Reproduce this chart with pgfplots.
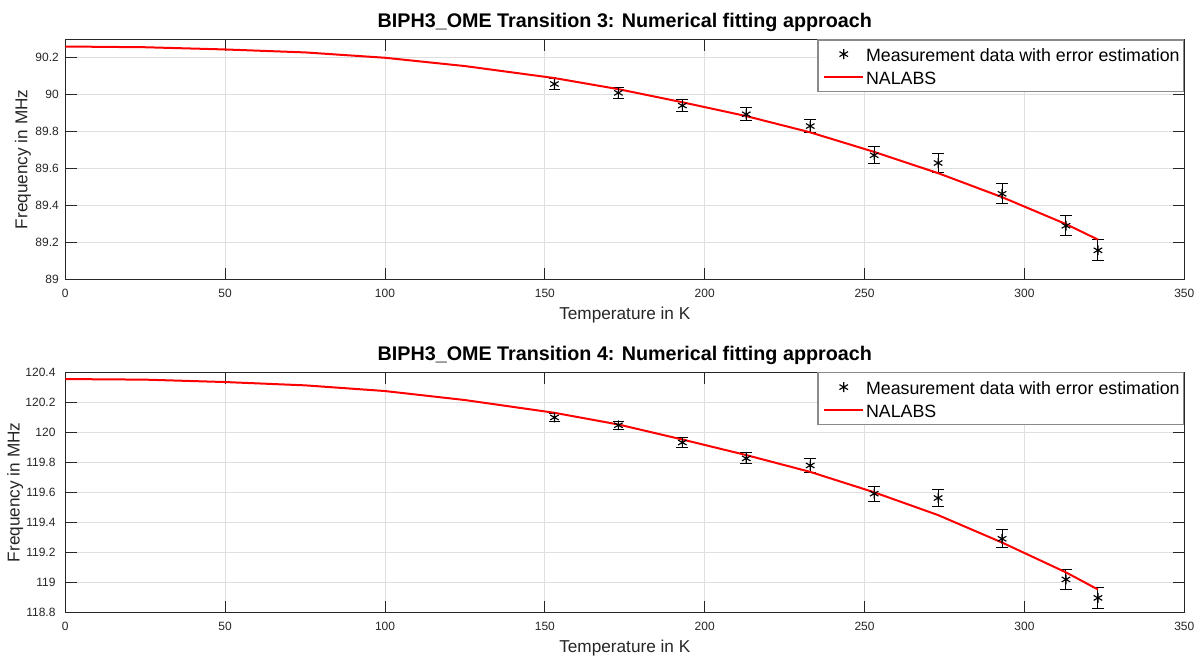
\documentclass[border=0pt]{standalone}
\usepackage{fontspec}
\setmainfont{Liberation Sans}
\usepackage{pgfplots}
\pgfplotsset{compat=1.18}
\definecolor{axc}{HTML}{262626}
\definecolor{gridc}{HTML}{DFDFDF}
\definecolor{legc}{HTML}{8A8A8A}

\pgfplotsset{
  mlab/.style={
    scale only axis, width=839.25bp, height=180bp,
    xmin=0, xmax=350, xtick={0,50,...,350},
    grid=major, grid style={gridc, line width=0.75bp},
    axis line style={axc, line width=0.9bp},
    tick align=inside, major tick length=8.4bp,
    every tick/.style={axc, line width=0.75bp},
    /pgf/number format/assume math mode=true,
    scaled y ticks=false,
    tick label style={font=\fontsize{9bp}{10bp}\selectfont, text=axc, inner sep=0pt},
    xticklabel style={anchor=base, yshift=-13.5bp},
    yticklabel style={anchor=east, xshift=-4.7bp},
    label style={font=\fontsize{12.9bp}{14bp}\selectfont, text=axc},
    xlabel style={at={(0.5,0)}, anchor=base, yshift=-30.5bp},
    ylabel style={at={(-0.0378,0.5)}, anchor=center},
    title style={font=\bfseries\fontsize{14.8bp}{16bp}\selectfont, at={(0.5,1)}, anchor=base, yshift=2.7bp},
    legend style={at={(1,1)}, anchor=north east, draw=legc, line width=0.9bp, fill=white,
      font=\fontsize{13.35bp}{15bp}\selectfont,
      inner xsep=1.5bp, inner ysep=3bp, row sep=2.2bp, column sep=0bp,
      nodes={inner sep=1.5bp, text height=11.5bp, text depth=0.8bp}},
    legend cell align=left,
    xlabel={Temperature in K}, ylabel={Frequency in MHz},
  },
  meas/.style={only marks, mark=asterisk, mark size=3.7bp, black, line width=0.85bp,
    error bars/y dir=both, error bars/y explicit,
    error bars/error bar style={black, line width=0.75bp},
    error bars/error mark options={black, rotate=90, mark size=4.4bp, line width=0.75bp},
    legend image code/.code={\path (-2.5bp,0bp); \draw[mark repeat=2,mark phase=2,##1] plot coordinates {(0bp,0bp) (14.5bp,0bp) (29bp,0bp)};}},
  fitline/.style={red, line width=1.5bp, no marks,
    legend image code/.code={\path (-2.5bp,0bp); \draw[##1] (0bp,0bp) -- (29bp,0bp);}},
}

% measurement data: T, f, error
\pgfplotstableread{
T f e
153 90.058 0.030
173 90.010 0.030
193 89.941 0.032
213 89.894 0.034
233 89.830 0.034
253 89.672 0.046
273 89.630 0.050
293 89.463 0.054
313 89.290 0.053
323 89.157 0.057
}\measA
\pgfplotstableread{
T f
0 90.261
25 90.257
50 90.245
75 90.229
100 90.200
125 90.155
153 90.090
173 90.030
193 89.959
213 89.884
233 89.796
253 89.690
273 89.575
293 89.445
313 89.299
323 89.215
}\fitA
\pgfplotstableread{
T f e
153 120.099 0.028
173 120.047 0.028
193 119.932 0.035
213 119.826 0.037
233 119.779 0.044
253 119.591 0.050
273 119.562 0.056
293 119.290 0.060
313 119.019 0.065
323 118.896 0.070
}\measB
\pgfplotstableread{
T f
0 120.355
25 120.351
50 120.335
75 120.313
100 120.275
125 120.215
153 120.130
173 120.052
193 119.952
213 119.848
233 119.736
253 119.600
273 119.448
293 119.265
313 119.066
323 118.952
}\fitB

\begin{document}
\begin{tikzpicture}
\begin{axis}[mlab, at={(0,0)}, anchor=north west,
  ymin=89, ymax=90.3, ytick={89,89.2,89.4,89.6,89.8,90,90.2},
  title={BIPH3\_OME Transition 3: Numerical fitting approach}]
\addplot[meas] table[x=T, y=f, y error=e] {\measA};
\addlegendentry{Measurement data with error estimation}
\addplot[fitline] table[x=T, y=f] {\fitA};
\addlegendentry{NALABS}
\end{axis}
\begin{axis}[mlab, at={(0,-249.75bp)}, anchor=north west,
  ymin=118.8, ymax=120.4, ytick={118.8,119,119.2,119.4,119.6,119.8,120,120.2,120.4},
  yticklabel style={xshift=-2.5bp},
  ylabel style={at={(-0.0449,0.5)}},
  title={BIPH3\_OME Transition 4: Numerical fitting approach}]
\addplot[meas] table[x=T, y=f, y error=e] {\measB};
\addlegendentry{Measurement data with error estimation}
\addplot[fitline] table[x=T, y=f] {\fitB};
\addlegendentry{NALABS}
\end{axis}
\pgfresetboundingbox
\path[use as bounding box] (-48.98bp,29.48bp) rectangle (848.8bp,-461.8bp);
\end{tikzpicture}
\end{document}
